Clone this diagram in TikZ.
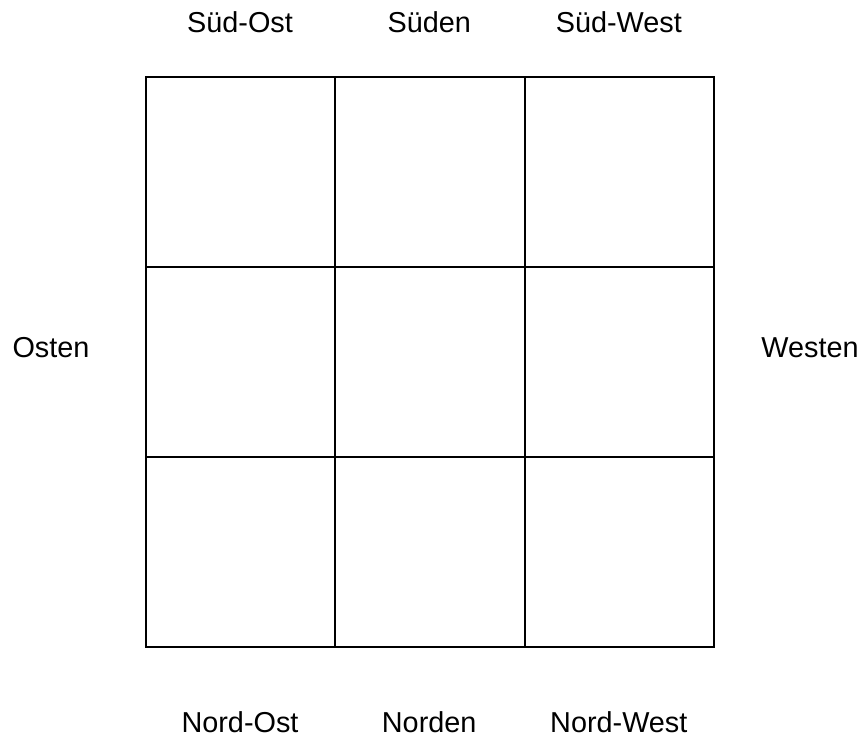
\documentclass[tikz,border=0pt]{standalone}
\usepackage{fontspec}
\setmainfont{Liberation Sans}
\usetikzlibrary{positioning}

\begin{document}
\begin{tikzpicture}[
    cell/.style={
        draw=black,
        line width=1.3pt,
        minimum width=4.733cm,
        minimum height=4.75cm,
        inner sep=0pt
    },
    direction/.style={
        font=\fontsize{20.5}{24}\selectfont,
        text=black,
        inner sep=0pt
    }
]
    \useasboundingbox (0,0) rectangle (21.525,-18.675);

    % 3x3 grid of cells
    \foreach \r in {1,2,3} {
        \foreach \c in {1,2,3} {
            \node[cell] (c\r\c) at ({3.65+(\c-1)*4.733+2.367},{-1.925-(\r-1)*4.75-2.375}) {};
        }
    }

    % directions above and below
    \node[direction] (suedost)  at (6.0,-0.55)   {Süd-Ost};
    \node[direction] (sueden)   at (10.73,-0.55) {Süden};
    \node[direction] (suedwest) at (15.47,-0.55) {Süd-West};
    \node[direction] (nordost)  at (6.0,-18.05)  {Nord-Ost};
    \node[direction] (norden)   at (10.73,-18.05) {Norden};
    \node[direction] (nordwest) at (15.47,-18.05) {Nord-West};

    % directions left and right
    \node[direction] (osten)  at (1.275,-8.7) {Osten};
    \node[direction] (westen) at (20.25,-8.7) {Westen};
\end{tikzpicture}
\end{document}
